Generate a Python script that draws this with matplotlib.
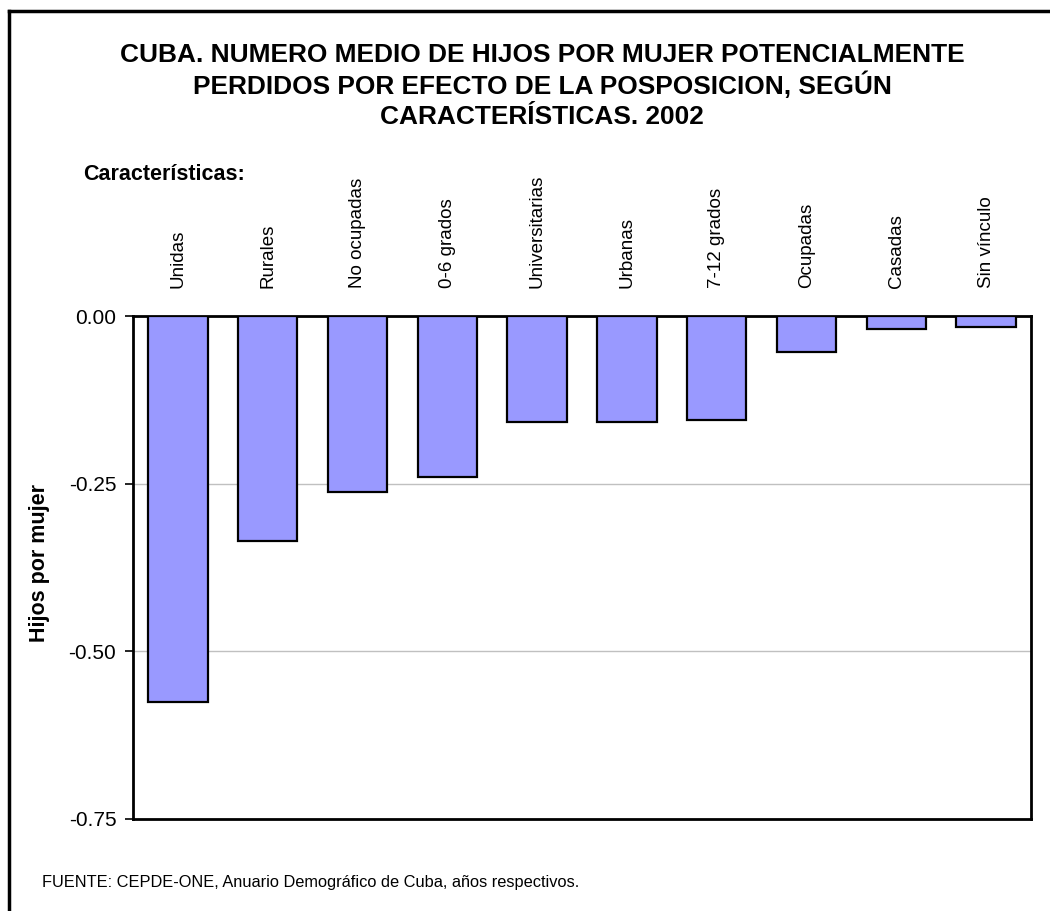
import matplotlib
matplotlib.use("Agg")
import matplotlib.pyplot as plt
from matplotlib.lines import Line2D

plt.rcParams['font.family'] = ['Liberation Sans', 'DejaVu Sans']

categories = ["Unidas", "Rurales", "No ocupadas", "0-6 grados", "Universitarias",
              "Urbanas", "7-12 grados", "Ocupadas", "Casadas", "Sin vínculo"]
values = [-0.575, -0.335, -0.262, -0.240, -0.158, -0.158, -0.155, -0.053, -0.019, -0.016]
yticks = [0.0, -0.25, -0.50, -0.75]
ytick_labels = ["0.00", "-0.25", "-0.50", "-0.75"]

title_lines = ["CUBA. NUMERO MEDIO DE HIJOS POR MUJER POTENCIALMENTE",
               "PERDIDOS POR EFECTO DE LA POSPOSICION, SEGÚN",
               "CARACTERÍSTICAS. 2002"]
ylabel = "Hijos por mujer"
cat_header = "Características:"
source = "FUENTE: CEPDE-ONE, Anuario Demográfico de Cuba, años respectivos."

W, H = 1050, 911
fig = plt.figure(figsize=(W / 100, H / 100), dpi=100)
fig.patch.set_facecolor("white")

ax = fig.add_axes([133 / W, 1 - 819 / H, (1031 - 133) / W, (819 - 316) / H])
x = list(range(len(categories)))
ax.bar(x, values, width=0.66, color="#9999FF", edgecolor="black", linewidth=1.6, zorder=3)
ax.set_xlim(-0.5, len(categories) - 0.5)
ax.set_ylim(-0.75, 0.0)
ax.set_yticks(yticks)
ax.set_yticklabels(ytick_labels, fontsize=15)
ax.tick_params(axis="y", direction="out", length=6, width=1.2, pad=6)
for yv in yticks[1:-1]:
    ax.axhline(yv, color="#c0c0c0", linewidth=1.0, zorder=1)

ax.xaxis.tick_top()
ax.set_xticks(x)
ax.set_xticklabels(categories, rotation=90, fontsize=13.5, va="bottom", ha="center")
ax.tick_params(axis="x", length=0, pad=20)

for s in ax.spines.values():
    s.set_linewidth(2.0)
    s.set_color("black")

fig.text(40 / W, 1 - 563 / H, ylabel, rotation=90, ha="center", va="center",
         fontsize=15.5, fontweight="bold")
for i, line in enumerate(title_lines):
    fig.text(542 / W, 1 - (52 + 31 * i) / H, line, ha="center", va="center_baseline",
             fontsize=18.9, fontweight="bold")
fig.text(83 / W, 1 - 175 / H, cat_header, ha="left", va="center", fontsize=15.5,
         fontweight="bold")
fig.text(42 / W, 1 - 883 / H, source, ha="left", va="center", fontsize=11.8)

# outer frame (top and left visible)
fig.add_artist(Line2D([9 / W, 9 / W], [0, 1 - 11 / H], transform=fig.transFigure,
                      color="black", linewidth=2.5))
fig.add_artist(Line2D([9 / W, 1], [1 - 11 / H, 1 - 11 / H], transform=fig.transFigure,
                      color="black", linewidth=2.5))

fig.savefig("out.png", dpi=100)
